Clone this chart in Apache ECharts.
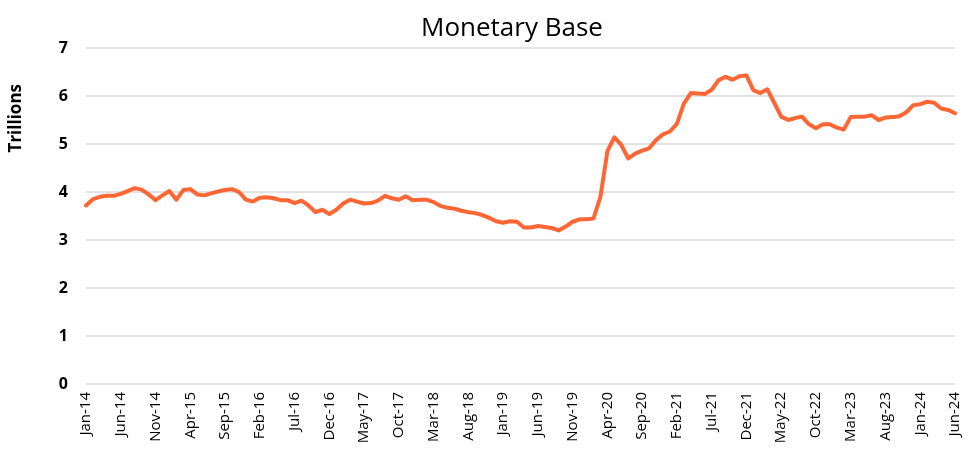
<!DOCTYPE html>
<html><head><meta charset="utf-8">
<script src="https://cdn.jsdelivr.net/npm/echarts@6/dist/echarts.min.js"></script>
<style>html,body{margin:0;padding:0;background:#fff}#c{width:976px;height:466px}</style>
</head><body><div id="c"></div>
<script>
const chartTitle = "Monetary Base";
const yAxisTitle = "Trillions";
const monthNames = ["Jan","Feb","Mar","Apr","May","Jun","Jul","Aug","Sep","Oct","Nov","Dec"];
const startYear = 2014, monthCount = 126;
const categories = [];
for (let i = 0; i < monthCount; i++) {
  const y = startYear + Math.floor(i / 12);
  categories.push(monthNames[i % 12] + "-" + String(y % 100).padStart(2, "0"));
}
const yTicks = [0, 1, 2, 3, 4, 5, 6, 7];
const values = [
  3.72,3.85,3.90,3.92,3.92,3.96,4.02,4.08,4.05,3.95,3.83,3.93,
  4.02,3.84,4.04,4.06,3.95,3.93,3.97,4.01,4.04,4.06,4.00,3.84,
  3.80,3.88,3.89,3.87,3.83,3.83,3.77,3.82,3.72,3.58,3.63,3.54,
  3.63,3.76,3.84,3.80,3.76,3.77,3.82,3.92,3.87,3.84,3.91,3.83,
  3.84,3.84,3.79,3.71,3.67,3.65,3.61,3.58,3.56,3.52,3.46,3.39,
  3.36,3.39,3.38,3.26,3.26,3.29,3.27,3.25,3.20,3.28,3.38,3.43,
  3.43,3.45,3.90,4.85,5.14,4.98,4.70,4.80,4.86,4.91,5.08,5.20,
  5.26,5.42,5.84,6.06,6.05,6.04,6.13,6.33,6.40,6.34,6.41,6.43,
  6.12,6.06,6.14,5.86,5.57,5.50,5.54,5.57,5.41,5.33,5.41,5.41,
  5.34,5.30,5.56,5.57,5.57,5.60,5.50,5.55,5.56,5.58,5.66,5.81,
  5.83,5.88,5.86,5.74,5.71,5.64
];
const FONT = "'Open Sans', 'Noto Sans', sans-serif";
const chart = echarts.init(document.getElementById('c'), null, {renderer: 'canvas'});
chart.setOption({
  animation: false,
  backgroundColor: '#fff',
  title: {
    text: chartTitle, left: 416, top: 11,
    textStyle: {fontFamily: FONT, fontSize: 26, fontWeight: 'normal', color: '#000'}
  },
  graphic: [{
    type: 'text', left: 8, top: 84, rotation: Math.PI / 2,
    style: {text: yAxisTitle, font: "bold 17px " + FONT, fill: '#000'}
  }],
  grid: {left: 86, right: 21, top: 48, bottom: 82},
  xAxis: {
    type: 'category', data: categories, boundaryGap: false,
    axisLine: {show: false}, axisTick: {show: false},
    axisLabel: {interval: 4, rotate: 90, fontFamily: FONT, fontSize: 15, color: '#000', margin: 8}
  },
  yAxis: {
    type: 'value', min: yTicks[0], max: yTicks[yTicks.length - 1], interval: 1,
    axisLine: {show: false}, axisTick: {show: false},
    axisLabel: {fontFamily: FONT, fontSize: 16, fontWeight: 'bold', color: '#000', margin: 18},
    splitLine: {lineStyle: {color: '#d9d9d9', width: 1.5}}
  },
  series: [{
    type: 'line', data: values, showSymbol: false,
    lineStyle: {color: '#FF6633', width: 4, cap: 'round', join: 'round'}
  }]
});
</script></body></html>
